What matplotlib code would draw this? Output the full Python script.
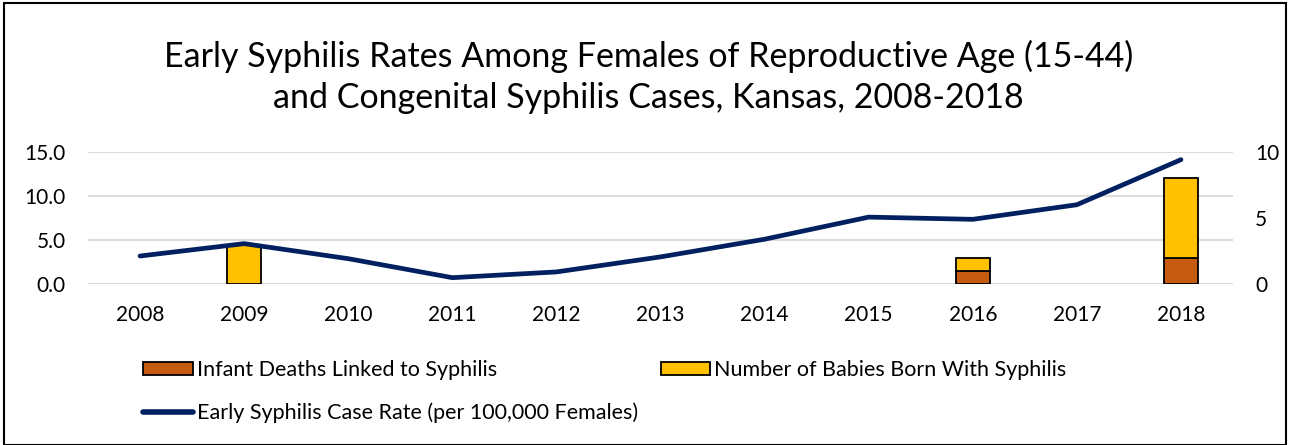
import matplotlib
matplotlib.use("Agg")
import matplotlib.pyplot as plt
from matplotlib.patches import Rectangle, Patch
from matplotlib.lines import Line2D

years = ["2008", "2009", "2010", "2011", "2012", "2013", "2014", "2015", "2016", "2017", "2018"]
case_rate = [3.2, 4.6, 2.9, 0.75, 1.4, 3.1, 5.1, 7.6, 7.35, 9.0, 14.1]
infant_deaths = [0, 0, 0, 0, 0, 0, 0, 0, 1, 0, 2]
babies_born = [0, 3, 0, 0, 0, 0, 0, 0, 1, 0, 6]

title = "Early Syphilis Rates Among Females of Reproductive Age (15-44)\nand Congenital Syphilis Cases, Kansas, 2008-2018"
lbl_deaths = "Infant Deaths Linked to Syphilis"
lbl_babies = "Number of Babies Born With Syphilis"
lbl_rate = "Early Syphilis Case Rate (per 100,000 Females)"

c_line = "#002060"
c_orange = "#C55A11"
c_yellow = "#FFC000"

plt.rcParams["font.family"] = ["Lato", "DejaVu Sans"]

W, H = 1289, 445
fig = plt.figure(figsize=(W / 100, H / 100), dpi=100)
ax = fig.add_axes([88 / W, (H - 284.3) / H, (1233 - 88) / W, (284.3 - 151.7) / H])
ax2 = ax.twinx()

x = list(range(len(years)))
# bars on secondary axis (skip zero-height segments so no edge lines are drawn)
dx = [i for i in x if infant_deaths[i] > 0]
ax2.bar(dx, [infant_deaths[i] for i in dx], width=0.33, color=c_orange,
        edgecolor="black", linewidth=1.3, zorder=2)
bx = [i for i in x if babies_born[i] > 0]
ax2.bar(bx, [babies_born[i] for i in bx], bottom=[infant_deaths[i] for i in bx], width=0.33,
        color=c_yellow, edgecolor="black", linewidth=1.3, zorder=2)

# line on primary axis, drawn above bars
ax.set_zorder(ax2.get_zorder() + 1)
ax.patch.set_visible(False)
ax.plot(x, case_rate, color=c_line, lw=3.4, solid_capstyle="round", zorder=3)

ax.set_ylim(0, 15)
ax2.set_ylim(0, 10)
ax.set_xlim(-0.5, len(years) - 0.5)
ax.set_yticks([0, 5, 10, 15])
ax.set_yticklabels(["0.0", "5.0", "10.0", "15.0"])
ax2.set_yticks([0, 5, 10])
ax2.set_yticklabels(["0", "5", "10"])
ax.set_xticks(x)
ax.set_xticklabels(years)

for a in (ax, ax2):
    for s in a.spines.values():
        s.set_visible(False)
    a.tick_params(length=0, labelsize=15, colors="black")
ax.tick_params(axis="y", pad=16)
ax2.tick_params(axis="y", pad=16)
ax.tick_params(axis="x", pad=15)

ax.grid(False)
for v in [0, 5, 10, 15]:
    ax2.axhline(v * 10 / 15, color="#d9d9d9", lw=1.3, zorder=0)

fig.text(0.503, (H - 77) / H, title, ha="center", va="center", fontsize=24.5, linespacing=1.32)

handles = [
    Patch(facecolor=c_orange, edgecolor="black", linewidth=1.3),
    Line2D([0], [0], color=c_line, lw=4, solid_capstyle="round"),
    Patch(facecolor=c_yellow, edgecolor="black", linewidth=1.3),
]
labels = [lbl_deaths, lbl_rate, lbl_babies]
fig.legend(handles, labels, ncol=2, loc="upper left", bbox_to_anchor=(143 / W, (H - 360) / H),
           frameon=False, fontsize=15.5, handlelength=2.3, handleheight=0.6, handletextpad=0.2,
           columnspacing=1.05, labelspacing=1.05, borderpad=0, borderaxespad=0)

fig.patches.append(Rectangle((4 / W, 0), (W - 7) / W, (H - 3) / H, transform=fig.transFigure,
                             fill=False, edgecolor="black", lw=1.5))

fig.savefig("out.png", dpi=100)
